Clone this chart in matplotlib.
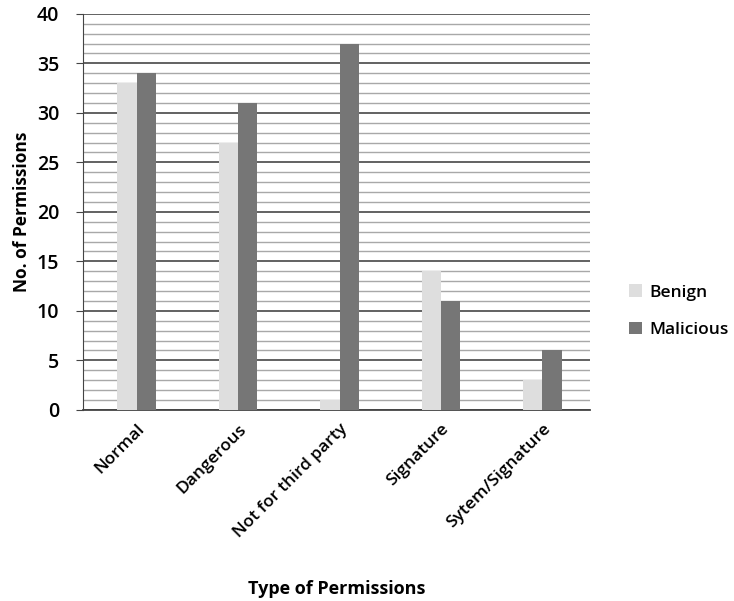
import numpy as np
import matplotlib.pyplot as plt
from matplotlib.ticker import MultipleLocator

# permission counts per category
categories = ["Normal", "Dangerous", "Not for third party", "Signature", "Sytem/Signature"]
benign = [33, 27, 1, 14, 3]
malicious = [34, 31, 37, 11, 6]

plt.rcParams['font.family'] = ['Open Sans', 'DejaVu Sans']

fig = plt.figure(figsize=(7.34, 6.01), dpi=100)
ax = fig.add_axes([0.113, 0.318, 0.691, 0.659])

x = np.arange(len(categories))
w = 0.19
ax.bar(x - w / 2 + 0.03, benign, w, color="#dedede", label="Benign", zorder=3)
ax.bar(x + w / 2 + 0.03, malicious, w, color="#767676", label="Malicious", zorder=3)

ax.set_xlim(-0.5, len(categories) - 0.5)
ax.set_ylim(0, 40)
ax.yaxis.set_major_locator(MultipleLocator(5))
ax.yaxis.set_minor_locator(MultipleLocator(1))
ax.grid(which="major", axis="y", color="#555555", linewidth=1.3, zorder=1)
ax.grid(which="minor", axis="y", color="#a8a8a8", linewidth=1.0, zorder=1)

for s in ["top", "right"]:
    ax.spines[s].set_visible(False)
ax.spines["left"].set_color("#444444")
ax.spines["bottom"].set_color("#444444")
ax.spines["bottom"].set_linewidth(1.3)

ax.tick_params(axis="y", which="major", length=5, labelsize=14, color="#444444", pad=12)
ax.tick_params(axis="y", which="minor", length=0)
ax.tick_params(axis="x", length=0, pad=8)
for lbl in ax.get_yticklabels():
    lbl.set_fontweight("semibold")

ax.set_xticks(x + 0.03)
ax.set_xticklabels(categories, rotation=45, ha="right", rotation_mode="anchor",
                   fontsize=12.5, fontweight="semibold")

ax.set_ylabel("No. of Permissions", fontsize=12.5, fontweight="bold", labelpad=4)
ax.set_xlabel("Type of Permissions", fontsize=13, fontweight="bold", labelpad=28)

fig.legend(loc="center left", bbox_to_anchor=(0.848, 0.482), frameon=False,
           prop={"size": 12.5, "weight": "semibold"},
           handlelength=0.75, handleheight=0.75, labelspacing=1.2,
           handletextpad=0.4, borderaxespad=0)

fig.savefig("out.png", dpi=100)
